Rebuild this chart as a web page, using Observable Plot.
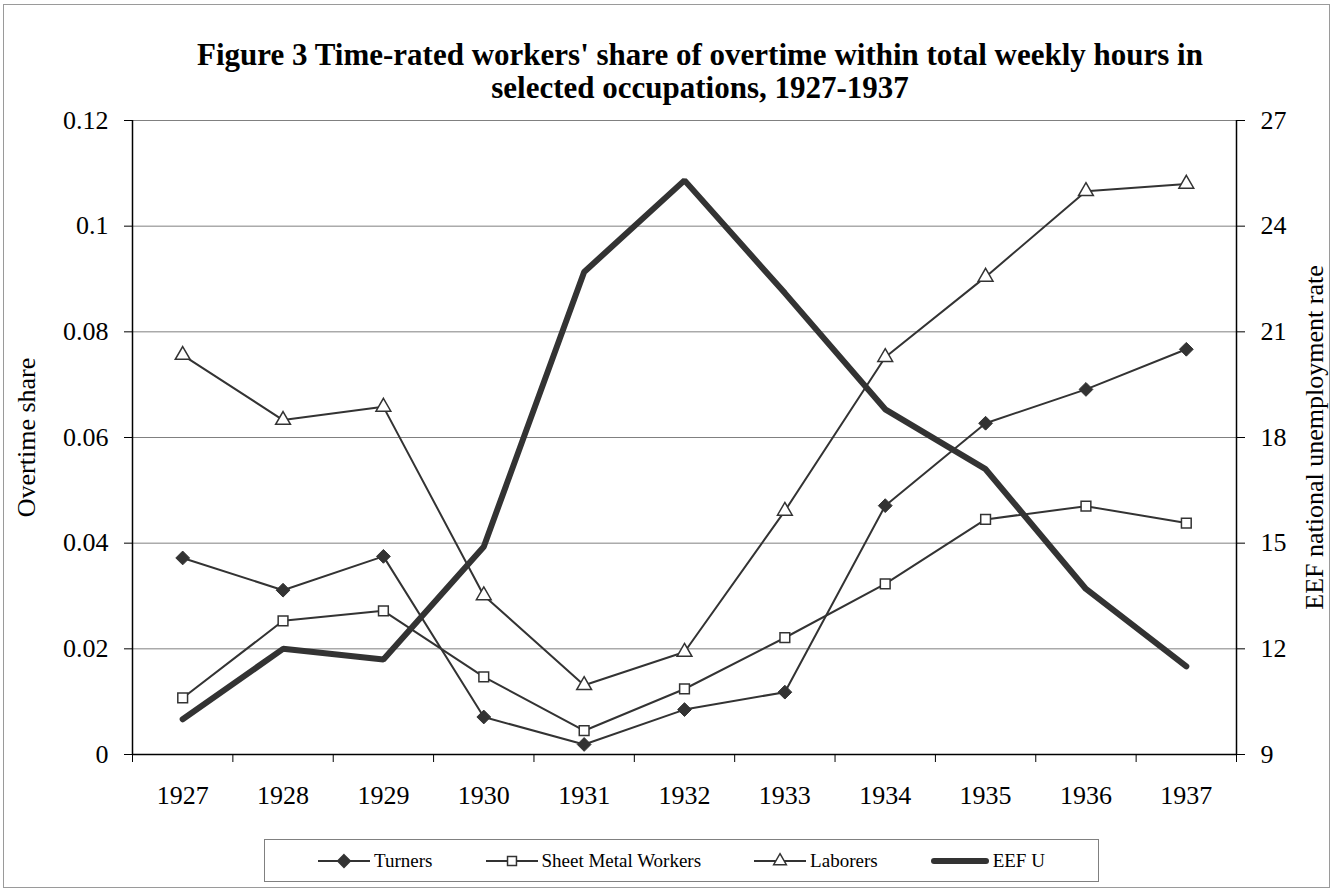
<!DOCTYPE html>
<html>
<head>
<meta charset="utf-8">
<script src="https://cdn.jsdelivr.net/npm/d3@7"></script>
<script src="https://cdn.jsdelivr.net/npm/@observablehq/plot@0.6"></script>
<style>
  html, body { margin: 0; padding: 0; background: #fff; }
  #wrap { position: relative; width: 1335px; height: 893px; overflow: hidden; font-family: "Liberation Serif", "Times New Roman", serif; }
  #frame { position: absolute; left: 3px; top: 4px; width: 1327px; height: 884px; border: 1px solid #9a9a9a; box-sizing: border-box; }
  #title { position: absolute; left: 0; top: 38px; width: 1335px; padding-left: 65px; box-sizing: border-box; text-align: center; font-weight: bold; font-size: 31px; line-height: 33px; color: #000; }
  #chart { position: absolute; left: 0; top: 0; }
  #legend { position: absolute; left: 264px; top: 839px; width: 835px; height: 43px; border: 1px solid #808080; box-sizing: border-box; display: flex; justify-content: center; align-items: center; gap: 53px; font-size: 19px; color: #000; }
  .item { display: flex; align-items: center; }
  .item span { margin-left: 4px; }
</style>
</head>
<body>
<div id="wrap">
  <div id="frame"></div>
  <div id="chart"></div>
  <div id="title">Figure 3 Time-rated workers' share of overtime within total weekly hours in<br>selected occupations, 1927-1937</div>
  <div id="legend"></div>
</div>
<script>
// ---- data ----
const years = [1927, 1928, 1929, 1930, 1931, 1932, 1933, 1934, 1935, 1936, 1937];
const turners = [0.0372, 0.0311, 0.0375, 0.0071, 0.0019, 0.0085, 0.0118, 0.0471, 0.0627, 0.0691, 0.0767];
const sheetMetal = [0.0107, 0.0253, 0.0272, 0.0147, 0.0045, 0.0124, 0.0221, 0.0323, 0.0445, 0.0470, 0.0438];
const laborers = [0.0756, 0.0633, 0.0658, 0.0301, 0.0131, 0.0194, 0.0461, 0.0752, 0.0904, 0.1066, 0.1080];
const eefU = [10.0, 12.0, 11.7, 14.9, 22.7, 25.3, 22.1, 18.8, 17.1, 13.7, 11.5];
const leftTicks = [0, 0.02, 0.04, 0.06, 0.08, 0.1, 0.12];
const rightTicks = [9, 12, 15, 18, 21, 24, 27];
const seriesNames = ["Turners", "Sheet Metal Workers", "Laborers", "EEF U"];

// ---- scales helpers ----
const leftDomain = [leftTicks[0], leftTicks[leftTicks.length - 1]];
const rightDomain = [rightTicks[0], rightTicks[rightTicks.length - 1]];
const toLeft = u => (u - rightDomain[0]) / (rightDomain[1] - rightDomain[0]) * (leftDomain[1] - leftDomain[0]) + leftDomain[0];
const fromLeft = v => (v - leftDomain[0]) / (leftDomain[1] - leftDomain[0]) * (rightDomain[1] - rightDomain[0]) + rightDomain[0];

const rows = (vals) => years.map((yr, i) => ({year: yr, value: vals[i]}));
const tData = rows(turners);
const sData = rows(sheetMetal);
const lData = rows(laborers);
const eData = years.map((yr, i) => ({year: yr, value: toLeft(eefU[i])}));
const bounds = [...years.map(y => y - 0.5), years[years.length - 1] + 0.5];
const xDomain = [bounds[0], bounds[bounds.length - 1]];

const ink = "#333333";
const font = "Liberation Serif, Times New Roman, serif";

// square diamond (rotated square), like the spreadsheet marker
const squareDiamond = {
  draw(ctx, size) {
    const r = Math.sqrt(size / 2);
    ctx.moveTo(0, -r); ctx.lineTo(r, 0); ctx.lineTo(0, r); ctx.lineTo(-r, 0); ctx.closePath();
  }
};

const chart = Plot.plot({
  width: 1335,
  height: 893,
  marginLeft: 132,
  marginRight: 99,
  marginTop: 120,
  marginBottom: 139,
  style: {fontFamily: font, fontSize: "26px", color: "#000", background: "transparent", overflow: "visible"},
  x: {type: "linear", domain: xDomain},
  y: {domain: leftDomain},
  marks: [
    Plot.ruleY(leftTicks.slice(1), {stroke: "#808080", strokeWidth: 1}),
    // left axis
    Plot.axisY(leftTicks, {anchor: "left", tickSize: 8, tickPadding: 16, tickFormat: d => String(d), fontSize: 26, stroke: "#000",
      label: "Overtime share", labelAnchor: "center", labelOffset: 116, labelArrow: "none"}),
    // right axis
    Plot.axisY(rightTicks.map(toLeft), {anchor: "right", tickSize: 8, tickPadding: 16,
      tickFormat: d => String(Math.round(fromLeft(d))), fontSize: 26, stroke: "#000",
      label: "EEF national unemployment rate", labelAnchor: "center", labelOffset: 86, labelArrow: "none"}),
    // x tick marks at category boundaries
    Plot.axisX(bounds, {anchor: "bottom", tickSize: 8, tickFormat: () => "", stroke: "#000", label: null}),
    // year labels
    Plot.axisX(years, {anchor: "bottom", tickSize: 0, tickPadding: 31, tickFormat: d => String(d), fontSize: 26, label: null}),
    // axis lines
    Plot.ruleX([xDomain[0], xDomain[1]], {y1: leftDomain[0], y2: leftDomain[1], stroke: "#000", strokeWidth: 1.5}),
    Plot.ruleY([0], {stroke: "#000", strokeWidth: 1.5}),
    // series
    Plot.line(tData, {x: "year", y: "value", stroke: ink, strokeWidth: 2}),
    Plot.line(sData, {x: "year", y: "value", stroke: ink, strokeWidth: 2}),
    Plot.line(lData, {x: "year", y: "value", stroke: ink, strokeWidth: 2}),
    Plot.dot(tData, {x: "year", y: "value", symbol: squareDiamond, r: 5.5, fill: ink, stroke: ink, strokeWidth: 1}),
    Plot.dot(sData, {x: "year", y: "value", symbol: "square", r: 5.5, fill: "#fff", stroke: ink, strokeWidth: 1.5}),
    Plot.dot(lData, {x: "year", y: "value", symbol: "triangle", r: 5.5, fill: "#fff", stroke: ink, strokeWidth: 1.5}),
    Plot.line(eData, {x: "year", y: "value", stroke: ink, strokeWidth: 6, strokeLinejoin: "miter"})
  ]
});
document.getElementById("chart").appendChild(chart);

// ---- legend ----
const legend = document.getElementById("legend");
const symbols = ["diamond", "square", "triangle", null];
seriesNames.forEach((name, i) => {
  const item = document.createElement("div");
  item.className = "item";
  const w = i === 3 ? 58 : 52;
  const svg = d3.create("svg").attr("width", w).attr("height", 18);
  svg.append("line").attr("x1", i === 3 ? 3 : 0).attr("x2", i === 3 ? w - 3 : w).attr("y1", 9).attr("y2", 9)
    .attr("stroke", ink).attr("stroke-width", i === 3 ? 6 : 2).attr("stroke-linecap", i === 3 ? "round" : "butt");
  if (symbols[i]) {
    const sym = {diamond: squareDiamond, square: d3.symbolSquare, triangle: d3.symbolTriangle}[symbols[i]];
    const size = {diamond: 80, square: 80, triangle: 70}[symbols[i]];
    svg.append("path").attr("d", d3.symbol(sym, size)()).attr("transform", `translate(${w / 2},9)`)
      .attr("fill", i === 0 ? ink : "#fff").attr("stroke", ink).attr("stroke-width", 1.5);
  }
  item.appendChild(svg.node());
  const span = document.createElement("span");
  span.textContent = name;
  item.appendChild(span);
  legend.appendChild(item);
});
</script>
</body>
</html>
